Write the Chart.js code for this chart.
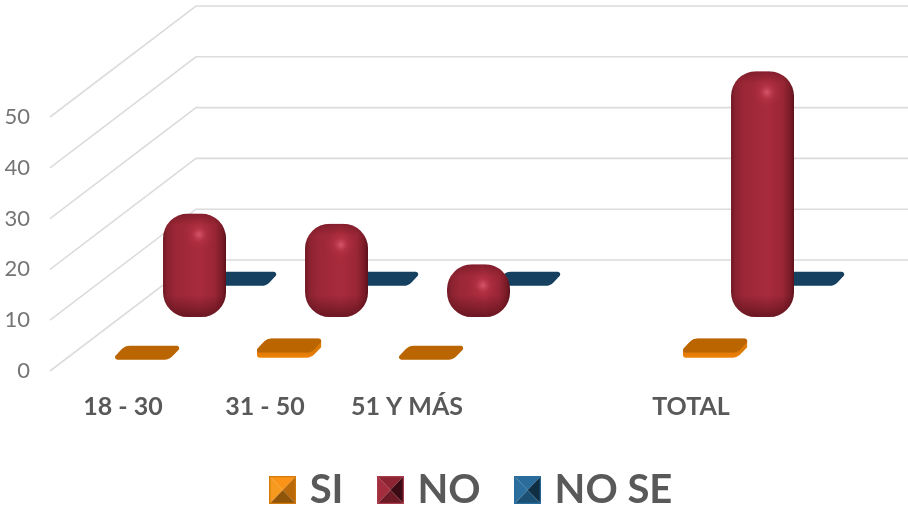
<!DOCTYPE html>
<html lang="es">
<head>
<meta charset="utf-8">
<title>SI / NO / NO SE por grupo de edad</title>
<script src="https://cdn.jsdelivr.net/npm/chart.js@4/dist/chart.umd.js"></script>
<style>
  html, body { margin: 0; padding: 0; background: #fff; }
  #wrap { width: 908px; height: 508px; }
</style>
</head>
<body>
<div id="wrap"><canvas id="c" width="908" height="508"></canvas></div>
<script>
// Age groups; the empty slot separates the groups from the total.
const categories = ['18 - 30', '31 - 50', '51 Y MÁS', '', 'TOTAL'];
const siValues   = [0, 1, 0, null, 1];
const noValues   = [20, 18, 10, null, 48];
const noSeValues = [0, 0, 0, null, 0];
const yTicks     = [0, 10, 20, 30, 40, 50];

// Depth of the fake 3D floor, and how far into it each series row sits.
const DEPTH_X = 146, DEPTH_Y = 111;
const ROW_DEPTH = [0.165, 0.49, 0.83];
const TICK_COLOR = '#757575', LABEL_COLOR = '#595959', GRID_COLOR = '#DCDCDC';
const FONT = 'Lato';

function roundedPoly(ctx, pts, radii) {
  const n = pts.length;
  const s = [(pts[n - 1][0] + pts[0][0]) / 2, (pts[n - 1][1] + pts[0][1]) / 2];
  ctx.beginPath();
  ctx.moveTo(s[0], s[1]);
  for (let i = 0; i < n; i++) {
    const p = pts[i], q = pts[(i + 1) % n];
    ctx.arcTo(p[0], p[1], q[0], q[1], radii[i]);
  }
  ctx.closePath();
}

// A flat rounded slab lying on the floor.
function tilePath(ctx, cx, cy, half) {
  const skew = half * 0.4, h = 7;
  roundedPoly(ctx, [
    [cx - half - 2, cy + h], [cx - half + skew - 2, cy - h],
    [cx + half + 2, cy - h], [cx + half - skew + 2, cy + h]
  ], [2.5, 11, 2.5, 11]);
}

function drawSlab(ctx, cx, cy, half, rise, topColor, sideColor) {
  if (rise > 0) {
    const lift = 2;
    const face = ctx.createLinearGradient(0, cy - lift - rise, 0, cy - lift + 7);
    face.addColorStop(0.5, '#DD7A06');
    face.addColorStop(1, sideColor);
    ctx.fillStyle = face;
    for (let k = 0; k <= rise; k++) {
      tilePath(ctx, cx, cy - lift - k, half);
      ctx.fill();
    }
    tilePath(ctx, cx, cy - lift - rise, half);
  } else {
    tilePath(ctx, cx, cy, half);
  }
  ctx.fillStyle = topColor;
  ctx.fill();
}

// A rounded, bevelled column with a soft highlight near the top.
function drawColumn(ctx, cx, top, bottom, w) {
  const x0 = cx - w / 2, h = bottom - top, r = Math.min(25, h / 2);
  ctx.save();
  ctx.beginPath();
  ctx.roundRect(x0, top, w, h, r);
  ctx.clip();

  const side = ctx.createLinearGradient(x0, 0, x0 + w, 0);
  side.addColorStop(0, '#701823');
  side.addColorStop(0.07, '#8A2230');
  side.addColorStop(0.2, '#9B2736');
  side.addColorStop(0.58, '#A82B3C');
  side.addColorStop(0.82, '#9A2635');
  side.addColorStop(0.94, '#791B27');
  side.addColorStop(1, '#5C111B');
  ctx.fillStyle = side;
  ctx.fillRect(x0, top, w, h);

  const capTop = ctx.createLinearGradient(0, top, 0, top + 12);
  capTop.addColorStop(0, 'rgba(70,10,20,0.35)');
  capTop.addColorStop(1, 'rgba(70,10,20,0)');
  ctx.fillStyle = capTop;
  ctx.fillRect(x0, top, w, 12);

  const capBottom = ctx.createLinearGradient(0, bottom - 22, 0, bottom);
  capBottom.addColorStop(0, 'rgba(60,8,16,0)');
  capBottom.addColorStop(1, 'rgba(60,8,16,0.55)');
  ctx.fillStyle = capBottom;
  ctx.fillRect(x0, bottom - 22, w, 22);

  const hx = x0 + w * 0.57, hy = top + Math.min(21, h * 0.42);
  const glow = ctx.createRadialGradient(hx, hy, 1, hx, hy, 16);
  glow.addColorStop(0, 'rgba(222,92,112,0.75)');
  glow.addColorStop(0.45, 'rgba(196,58,78,0.28)');
  glow.addColorStop(1, 'rgba(180,45,65,0)');
  ctx.fillStyle = glow;
  ctx.fillRect(hx - 17, hy - 17, 34, 34);
  ctx.restore();
}

// Square pyramid swatches used as the legend markers.
function pyramidSwatch(top, left, right, bottom, edge) {
  const W = 27, H = 28;
  const cv = document.createElement('canvas');
  cv.width = W; cv.height = H;
  const g = cv.getContext('2d');
  const cx = W / 2, cy = H / 2;
  const tri = (a, b, fill) => {
    g.beginPath(); g.moveTo(a[0], a[1]); g.lineTo(b[0], b[1]); g.lineTo(cx, cy); g.closePath();
    g.fillStyle = fill; g.fill();
  };
  tri([0, 0], [W, 0], top);
  tri([W, 0], [W, H], right);
  tri([W, H], [0, H], bottom);
  tri([0, H], [0, 0], left);
  g.strokeStyle = edge; g.lineWidth = 1.5;
  g.strokeRect(0.5, 0.5, W - 1, H - 1);
  return cv;
}

const swatches = [
  pyramidSwatch('#FB9416', '#F59A1E', '#B9680A', '#8F5408', '#D27A0C'),
  pyramidSwatch('#8C2433', '#A32C3D', '#3B0B13', '#6B1A26', '#A83A4B'),
  pyramidSwatch('#2A6C9C', '#2C6F9F', '#0F2E44', '#1B4F74', '#2A6C9C')
];

// Walls and floor rules: each value gets a slanted side line and a back line.
const floorGrid = {
  id: 'floorGrid',
  beforeDatasetsDraw(chart) {
    const { ctx, scales: { y }, chartArea, width } = chart;
    ctx.save();
    ctx.strokeStyle = GRID_COLOR;
    ctx.lineWidth = 1.6;
    y.ticks.forEach(t => {
      const py = y.getPixelForValue(t.value);
      const x0 = chartArea.left - 2;
      ctx.beginPath();
      ctx.moveTo(x0, py);
      ctx.lineTo(x0 + DEPTH_X, py - DEPTH_Y);
      ctx.lineTo(width, py - DEPTH_Y);
      ctx.stroke();
    });
    ctx.restore();
  }
};

// Replaces the flat bar drawing with rows of 3D marks placed on the floor.
const depthBars = {
  id: 'depthBars',
  beforeDatasetDraw(chart, args) {
    const { ctx } = chart;
    const row = ROW_DEPTH[args.index];
    const dx = row * DEPTH_X, dy = row * DEPTH_Y;
    const ds = chart.data.datasets[args.index];
    args.meta.data.forEach((el, i) => {
      if (ds.data[i] === null) return;
      const { x, y, base, width } = el.getProps(['x', 'y', 'base', 'width'], true);
      const cx = x + dx, floor = base - dy, rise = base - y;
      if (ds.columnShape) {
        drawColumn(ctx, cx, y - dy - 1.5, floor + 0.5, width);
      } else {
        drawSlab(ctx, cx, floor, width * 0.53, rise, ds.topColor, ds.backgroundColor);
      }
    });
    return false;
  }
};

// The legend sits right of the plot centre, low under the floor.
const legendShift = {
  id: 'legendShift',
  afterLayout(chart) {
    const l = chart.legend;
    l.left += 93;
    l.right += 93;
    l.top += 12;
    l.bottom += 12;
  }
};

new Chart(document.getElementById('c'), {
  type: 'bar',
  data: {
    labels: categories,
    datasets: [
      { label: 'SI', data: siValues, backgroundColor: '#F08208', topColor: '#BA6500' },
      { label: 'NO', data: noValues, backgroundColor: '#A32A3B', columnShape: true },
      { label: 'NO SE', data: noSeValues, backgroundColor: '#16405F', topColor: '#16405F' }
    ]
  },
  plugins: [floorGrid, depthBars, legendShift],
  options: {
    responsive: false,
    animation: false,
    grouped: false,
    barPercentage: 0.444,
    categoryPercentage: 1,
    layout: { padding: { top: 117, right: 146, left: 0, bottom: 0 } },
    scales: {
      x: {
        grid: { display: false },
        border: { display: false },
        ticks: {
          padding: 13, maxRotation: 0, autoSkip: false,
          color: LABEL_COLOR,
          font: { family: FONT, size: 25, weight: 'bold' }
        },
        afterFit(s) { s.height = 47; }
      },
      y: {
        min: 0, max: 50,
        grid: { display: false },
        border: { display: false },
        afterBuildTicks(s) { s.ticks = yTicks.map(value => ({ value })); },
        ticks: {
          padding: 14, color: TICK_COLOR,
          font: { family: FONT, size: 22 }
        },
        afterFit(s) { s.width = 52; }
      }
    },
    plugins: {
      tooltip: { enabled: false },
      legend: {
        position: 'bottom',
        labels: {
          color: LABEL_COLOR,
          font: { family: FONT, size: 40, weight: 'bold' },
          usePointStyle: true,
          pointStyleWidth: 14,
          boxHeight: 28,
          padding: 40,
          generateLabels(chart) {
            return chart.data.datasets.map((d, i) => ({
              text: d.label, datasetIndex: i, pointStyle: swatches[i],
              fontColor: LABEL_COLOR, lineWidth: 0, strokeStyle: 'transparent', fillStyle: d.backgroundColor
            }));
          }
        }
      }
    }
  }
});
</script>
</body>
</html>
